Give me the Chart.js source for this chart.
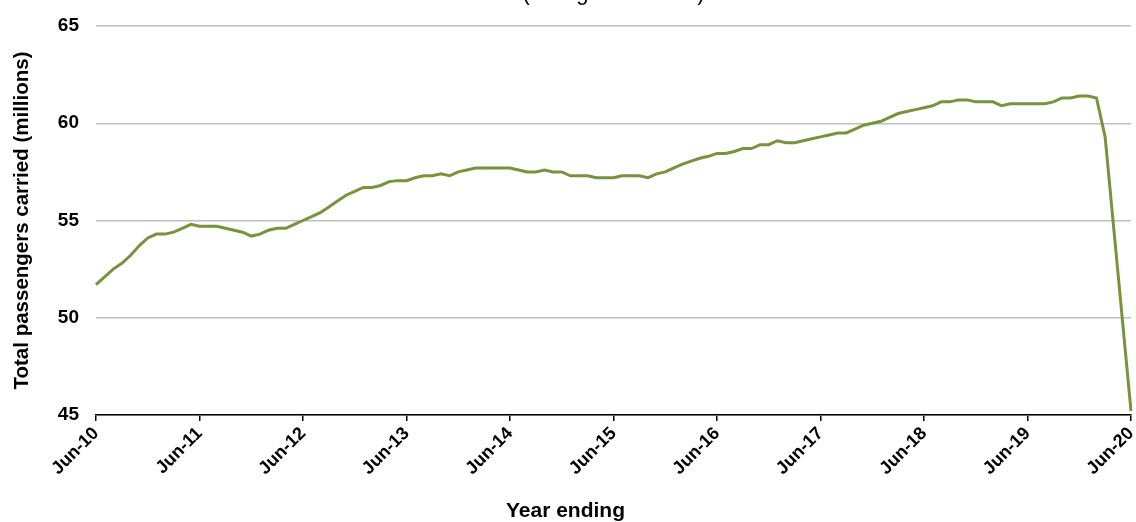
<!DOCTYPE html>
<html>
<head>
<meta charset="utf-8">
<script src="https://cdn.jsdelivr.net/npm/chart.js@4.4.1/dist/chart.umd.min.js"></script>
<style>
  html, body { margin: 0; padding: 0; background: #fff; }
</style>
</head>
<body>
<canvas id="passengers-chart" width="1136" height="522"></canvas>
<script>
// year ending months, Jun-10 .. Jun-20
const monthNames = ["Jan", "Feb", "Mar", "Apr", "May", "Jun", "Jul", "Aug", "Sep", "Oct", "Nov", "Dec"];
const months = [];
for (let y = 10; y <= 20; y++) {
  for (let m = 0; m < 12; m++) {
    if ((y === 10 && m < 5) || (y === 20 && m > 5)) continue;
    months.push(monthNames[m] + "-" + y);
  }
}

const yearTicks = ["Jun-10", "Jun-11", "Jun-12", "Jun-13", "Jun-14", "Jun-15",
  "Jun-16", "Jun-17", "Jun-18", "Jun-19", "Jun-20"];

// total passengers carried, rolling 12 months (millions)
const passengers = [
  51.7, 52.1, 52.5, 52.8, 53.2, 53.7, 54.1, 54.3, 54.3, 54.4, 54.6, 54.8,
  54.7, 54.7, 54.7, 54.6, 54.5, 54.4, 54.2, 54.3, 54.5, 54.6, 54.6, 54.8,
  55.0, 55.2, 55.4, 55.7, 56.0, 56.3, 56.5, 56.7, 56.7, 56.8, 57.0, 57.05,
  57.05, 57.2, 57.3, 57.3, 57.4, 57.3, 57.5, 57.6, 57.7, 57.7, 57.7, 57.7,
  57.7, 57.6, 57.5, 57.5, 57.6, 57.5, 57.5, 57.3, 57.3, 57.3, 57.2, 57.2,
  57.2, 57.3, 57.3, 57.3, 57.2, 57.4, 57.5, 57.7, 57.9, 58.05, 58.2, 58.3,
  58.45, 58.45, 58.55, 58.7, 58.7, 58.9, 58.9, 59.1, 59.0, 59.0, 59.1, 59.2,
  59.3, 59.4, 59.5, 59.5, 59.7, 59.9, 60.0, 60.1, 60.3, 60.5, 60.6, 60.7,
  60.8, 60.9, 61.1, 61.1, 61.2, 61.2, 61.1, 61.1, 61.1, 60.9, 61.0, 61.0,
  61.0, 61.0, 61.0, 61.1, 61.3, 61.3, 61.4, 61.4, 61.3, 59.3, 54.6, 49.9,
  45.2
];

const yTicks = [45, 50, 55, 60, 65];

const fontFamily = "'Liberation Sans', Arial, sans-serif";

// top caption, cut off above the picture (only descenders show)
const topCaption = {
  id: "topCaption",
  afterDraw(chart) {
    const ctx = chart.ctx;
    const area = chart.chartArea;
    ctx.save();
    ctx.font = "22px " + fontFamily;
    ctx.fillStyle = "#000";
    ctx.textAlign = "center";
    ctx.textBaseline = "alphabetic";
    ctx.fillText("(rolling 12 months)", (area.left + area.right) / 2, -0.5);
    ctx.restore();
  },
};

const canvas = document.getElementById("passengers-chart");
const chart = new Chart(canvas.getContext("2d"), {
  type: "line",
  data: {
    labels: months,
    datasets: [
      {
        label: "Total passengers carried",
        data: passengers,
        borderColor: "#77933C",
        borderWidth: 3,
        pointRadius: 0,
        tension: 0,
        fill: false,
      },
    ],
  },
  options: {
    responsive: false,
    animation: false,
    layout: { padding: { top: 26, right: 5, left: 0, bottom: 0 } },
    plugins: {
      legend: { display: false },
      tooltip: { enabled: false },
      title: {
        display: true,
        position: "bottom",
        text: "Year ending",
        color: "#000",
        font: { family: fontFamily, size: 21, weight: "bold", lineHeight: 1 },
        padding: { top: 0, bottom: 0 },
      },
    },
    scales: {
      x: {
        offset: false,
        afterFit: (scale) => {
          scale.height = 86;
          scale.paddingLeft = 0;
          scale.paddingRight = 0;
        },
        border: { display: true, color: "#000", width: 1.5 },
        grid: {
          display: true,
          drawOnChartArea: false,
          drawTicks: true,
          tickLength: 6,
          color: "#000",
          lineWidth: 1.5,
        },
        ticks: {
          autoSkip: false,
          maxRotation: 45,
          minRotation: 45,
          padding: 2,
          color: "#000",
          font: { family: fontFamily, size: 18, weight: "bold" },
          callback: function (val) {
            const lab = this.getLabelForValue(val);
            return yearTicks.includes(lab) ? lab : null;
          },
        },
      },
      y: {
        min: yTicks[0],
        max: yTicks[yTicks.length - 1],
        afterFit: (scale) => {
          scale.width = 96;
          scale.paddingTop = 0;
          scale.paddingBottom = 0;
        },
        afterBuildTicks: (scale) => { scale.ticks = yTicks.map((v) => ({ value: v })); },
        border: { display: false },
        grid: { color: "#c0c0c0", lineWidth: 1.5, drawTicks: false },
        ticks: {
          padding: 17,
          color: "#000",
          font: { family: fontFamily, size: 19, weight: "bold" },
        },
        title: {
          display: true,
          text: "Total passengers carried (millions)",
          color: "#000",
          font: { family: fontFamily, size: 20.5, weight: "bold", lineHeight: 1.2 },
          padding: { top: 10, bottom: 0 },
        },
      },
    },
  },
  plugins: [topCaption],
});
</script>
</body>
</html>
